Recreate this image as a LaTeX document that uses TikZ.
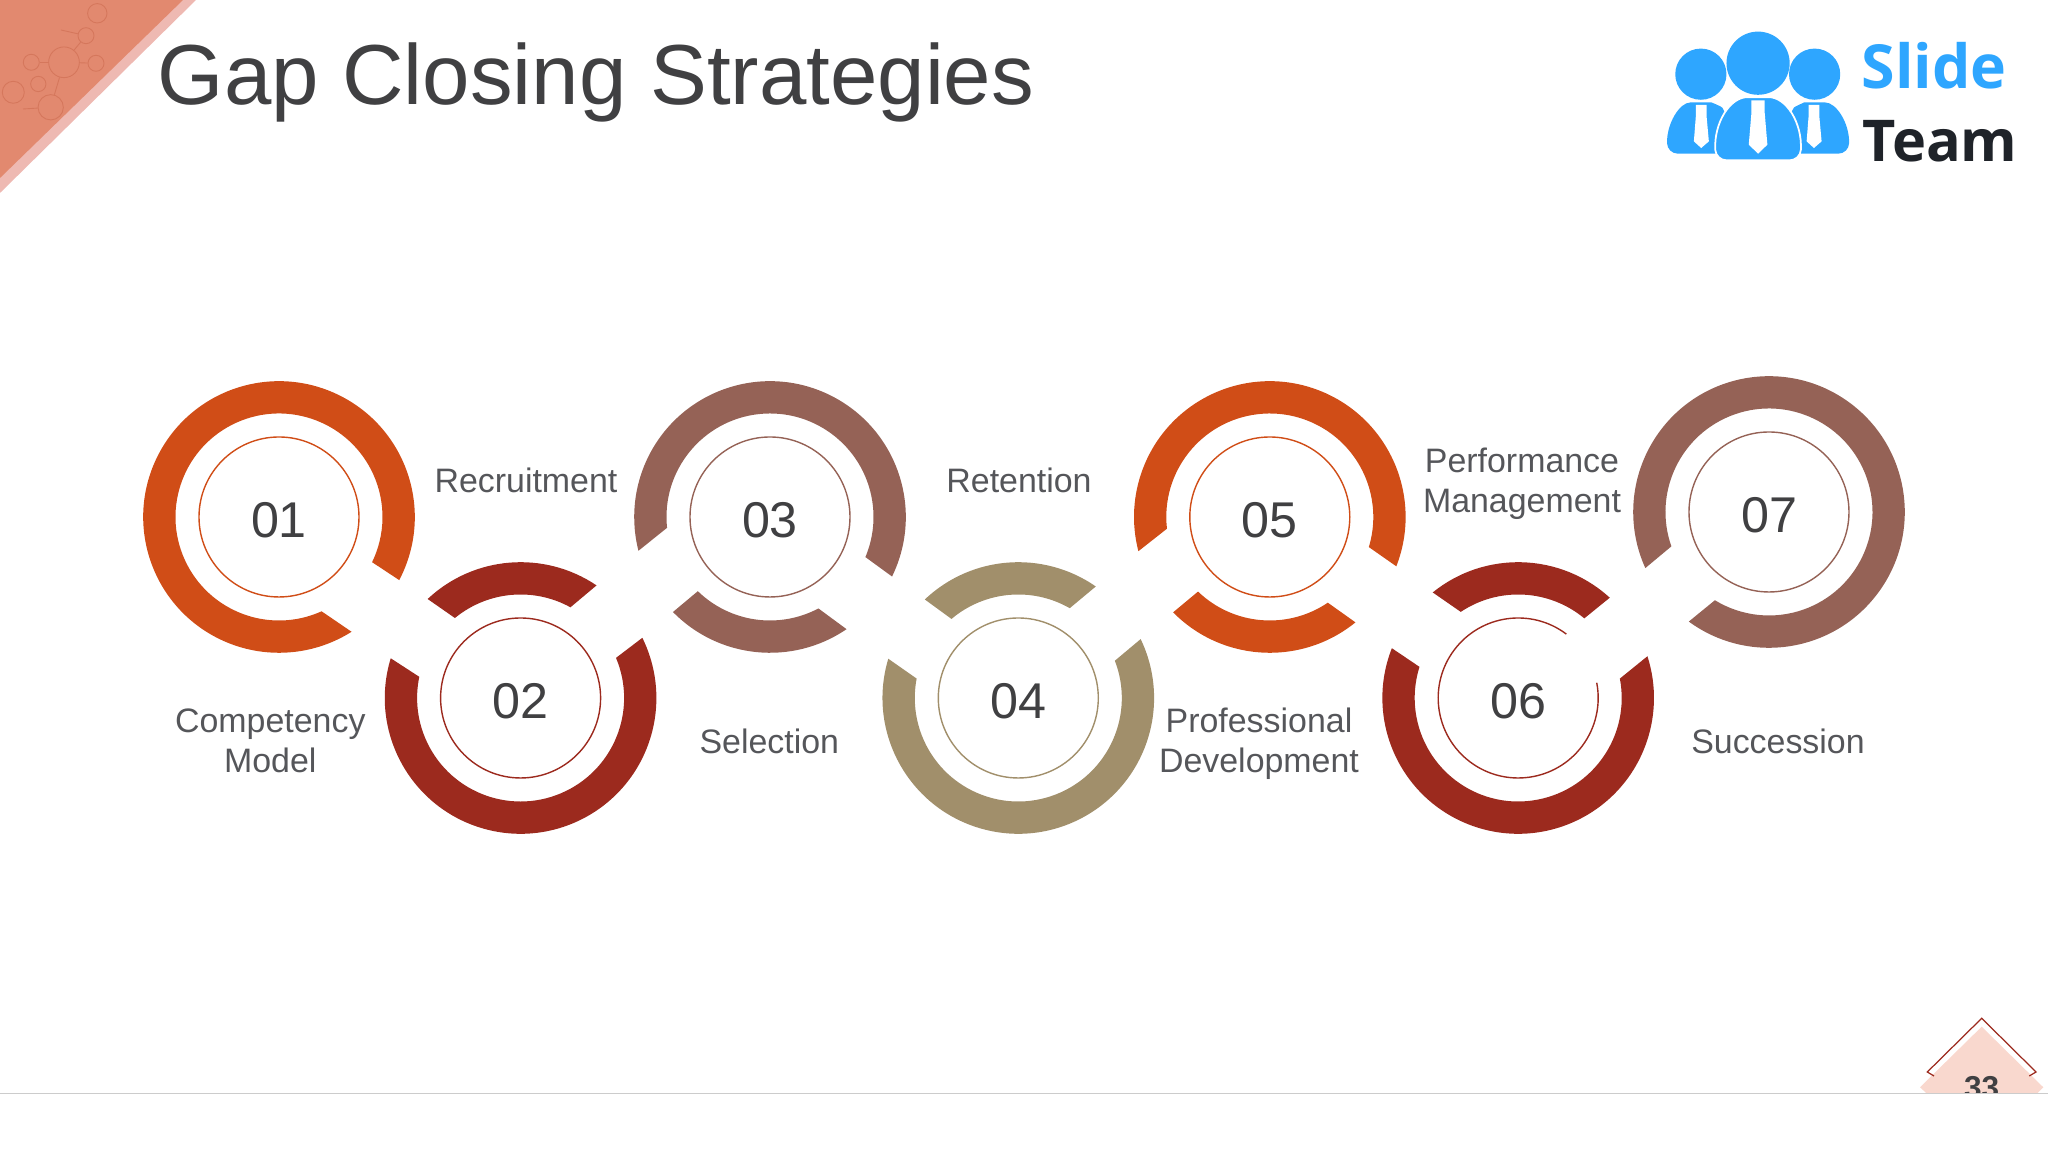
\documentclass[tikz,border=0pt]{standalone}
\usepackage{fontspec}
\setmainfont{Liberation Sans}
\newfontfamily\logofont{Open Sans}[BoldFont={* Bold}]
\usetikzlibrary{positioning}

\definecolor{ringorange}{HTML}{D04D17}
\definecolor{ringred}{HTML}{9C2A1E}
\definecolor{ringbrown}{HTML}{956256}
\definecolor{ringtan}{HTML}{A18F6B}
\definecolor{labelgray}{HTML}{55565A}
\definecolor{numgray}{HTML}{404042}
\definecolor{cornerfill}{HTML}{E2896F}
\definecolor{cornerband}{HTML}{EEB9B2}
\definecolor{cornerline}{HTML}{D5775C}
\definecolor{logoblue}{HTML}{2EA6FF}
\definecolor{logodark}{HTML}{1F2329}
\definecolor{pagefill}{HTML}{F9D8CE}

\tikzstyle{numcell}=[circle, draw, line width=0.4pt, minimum size=1.6cm, inner sep=0pt, text=numgray, text height=11.66pt, text depth=0pt, font=\fontsize{14.3pt}{17pt}\selectfont]
\tikzstyle{steplabel}=[anchor=base, inner sep=0pt, align=center, text=labelgray, font=\fontsize{9.65pt}{11.66pt}\selectfont]
\tikzstyle{bubble}=[circle, draw=cornerline, line width=0.25pt, inner sep=0pt]

\newcommand{\ringpart}[6]{\fill[#2, shift={(#1)}] (#3:1.358) arc[start angle=#3, end angle=#4, radius=1.358] -- (#5:1.035) arc[start angle=#5, end angle=#6, radius=1.035] -- cycle;}

\begin{document}
\begin{tikzpicture}
\useasboundingbox (0,0) rectangle (20.48,11.52);

\fill[cornerband] (0,11.52) -- (1.96,11.52) -- (0,9.59) -- cycle;
\fill[cornerfill] (0,11.52) -- (1.83,11.52) -- (0,9.74) -- cycle;
\node[bubble, minimum size=0.194cm] (b1) at (0.973,11.387) {};
\node[bubble, minimum size=0.16cm] (b2) at (0.86,11.163) {};
\node[bubble, minimum size=0.307cm] (b3) at (0.64,10.897) {};
\node[bubble, minimum size=0.16cm] (b4) at (0.96,10.887) {};
\node[bubble, minimum size=0.16cm] (b5) at (0.313,10.897) {};
\node[bubble, minimum size=0.153cm] (b6) at (0.383,10.68) {};
\node[bubble, minimum size=0.22cm] (b7) at (0.133,10.597) {};
\node[bubble, minimum size=0.253cm] (b8) at (0.507,10.447) {};
\coordinate (e1) at (0.61,11.22);
\coordinate (e2) at (0.23,10.43);
\draw[cornerline, line width=0.25pt] (b2) -- (b3);
\draw[cornerline, line width=0.25pt] (b3) -- (b4);
\draw[cornerline, line width=0.25pt] (b3) -- (b5);
\draw[cornerline, line width=0.25pt] (b3) -- (b8);
\draw[cornerline, line width=0.25pt] (b2) -- (e1);
\draw[cornerline, line width=0.25pt] (b8) -- (e2);

\node[anchor=base west, inner sep=0pt, text=numgray, font=\fontsize{24.25pt}{29pt}\selectfont] (title) at (1.57,10.47) {Gap Closing Strategies};

\begin{scope}[shift={(16.40cm,11.42cm)}, x=0.003333cm, y=-0.003333cm]
\fill[logoblue] (183,193) circle (77);
\fill[logoblue] (355,160) circle (95);
\fill[logoblue] (525,193) circle (77);
\fill[logoblue, rounded corners=3pt] (82,432) .. controls (80,340) and (120,278) .. (183,278) .. controls (215,278) and (245,290) .. (265,320) -- (265,432) -- cycle;
\fill[logoblue, rounded corners=3pt] (628,432) .. controls (630,340) and (590,278) .. (525,278) .. controls (495,278) and (465,290) .. (445,320) -- (445,432) -- cycle;
\draw[white, line width=0.5pt, fill=logoblue, rounded corners=3pt] (228,452) .. controls (222,340) and (270,262) .. (355,262) .. controls (440,262) and (488,340) .. (482,452) -- cycle;
\fill[white] (335,272) -- (375,272) -- (375,310) -- (383,405) -- (355,432) -- (327,405) -- (335,310) -- cycle;
\fill[white] (168,285) -- (200,285) -- (200,318) -- (207,395) -- (184,415) -- (162,395) -- (168,318) -- cycle;
\fill[white] (507,285) -- (539,285) -- (539,318) -- (546,395) -- (523,415) -- (501,395) -- (507,318) -- cycle;
\end{scope}
\node[anchor=base west, inner sep=0pt, text=logoblue, font=\logofont\bfseries\fontsize{17.3pt}{20pt}\selectfont] (slide) at (18.61,10.635) {Slide};
\node[anchor=base west, inner sep=0pt, text=logodark, font=\logofont\bfseries\fontsize{16.4pt}{20pt}\selectfont] (team) at (18.62,9.905) {Team};

\node[numcell, draw=ringorange] (n1) at (2.79,6.35) {01};
\ringpart{n1}{ringorange}{-27.7}{302.3}{294.3}{-25.9}

\node[numcell, draw=ringred] (n2) at (5.206,4.54) {02};
\ringpart{n2}{ringred}{56}{133.2}{129.4}{61.2}
\ringpart{n2}{ringred}{163}{386.3}{382.8}{168.2}

\node[numcell, draw=ringbrown] (n3) at (7.70,6.35) {03};
\ringpart{n3}{ringbrown}{-26}{194.4}{186}{-22.8}
\ringpart{n3}{ringbrown}{224.4}{304.3}{297.9}{225.8}

\node[numcell, draw=ringtan] (n4) at (10.183,4.54) {04};
\ringpart{n4}{ringtan}{55.2}{133.5}{130.2}{60.2}
\ringpart{n4}{ringtan}{163.2}{385.7}{381.1}{169.2}

\node[numcell, draw=ringorange] (n5) at (12.698,6.35) {05};
\ringpart{n5}{ringorange}{-21.3}{194.6}{186.5}{-16.9}
\ringpart{n5}{ringorange}{224.6}{309.1}{304.1}{226.1}

\node[numcell, draw=none] (n6) at (15.182,4.54) {06};
\draw[ringred, line width=0.4pt, shift={(n6)}] (53:0.8) arc[start angle=53, end angle=371, radius=0.8];
\ringpart{n6}{ringred}{47.6}{129}{123.7}{50.3}
\ringpart{n6}{ringred}{158.5}{377.9}{370.8}{162.5}

\node[numcell, draw=ringbrown] (n7) at (17.69,6.40) {07};
\ringpart{n7}{ringbrown}{233.8}{564.4}{559.4}{238.5}

\node[steplabel] (l1) at (5.26,6.597) {Recruitment};
\node[steplabel] (l2) at (2.703,3.79) {Competency\\Model};
\node[steplabel] (l3) at (7.693,3.987) {Selection};
\node[steplabel] (l4) at (10.19,6.597) {Retention};
\node[steplabel] (l5) at (12.59,3.79) {Professional\\Development};
\node[steplabel] (l6) at (15.22,6.39) {Performance\\Management};
\node[steplabel] (l7) at (17.78,3.987) {Succession};

\fill[pagefill] (19.817,1.253) -- (20.433,0.647) -- (20.37,0.583) -- (19.27,0.583) -- (19.20,0.647) -- cycle;
\draw[ringred, line width=0.35pt] (19.34,0.76) -- (19.273,0.80) -- (19.817,1.337) -- (20.36,0.80) -- (20.293,0.76);
\node[anchor=base, inner sep=0pt, text=numgray, font=\bfseries\fontsize{9pt}{11pt}\selectfont] (pagenum) at (19.817,0.534) {33};
\fill[white] (0,0) rectangle (20.48,0.583);
\draw[gray!40, line width=0.3pt] (0,0.583) -- (20.48,0.583);
\end{tikzpicture}
\end{document}
